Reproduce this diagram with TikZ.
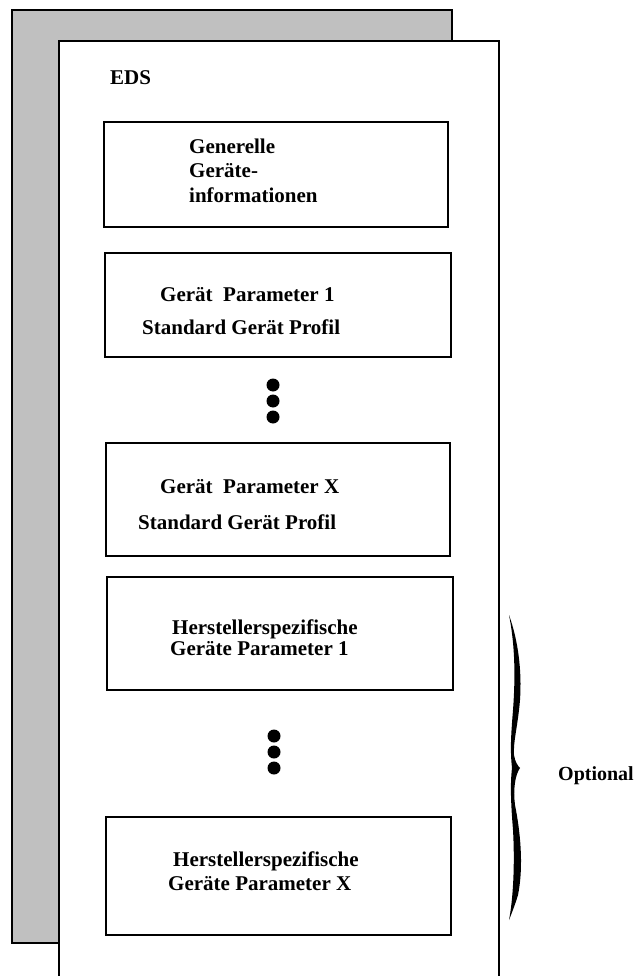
\documentclass[tikz,border=0pt]{standalone}
\usepackage{fontspec}
\setmainfont{Liberation Serif}
\definecolor{backgray}{RGB}{192,192,192}
\begin{document}
\begin{tikzpicture}[x=1pt,y=-1pt,
  frame/.style={draw=black,line width=2pt},
  box/.style={draw=black,line width=2pt,fill=white},
  lbl/.style={anchor=base west,inner sep=0pt,font=\fontsize{21}{24}\selectfont\bfseries},
  dot/.style={fill=black}]
\useasboundingbox (0,0) rectangle (635,976);
% back (gray) sheet
\draw[frame,fill=backgray] (12,10) rectangle (452,943);
% front (white) sheet
\fill[white] (59,41) rectangle (499,976);
\draw[frame] (59,980) -- (59,41) -- (499,41) -- (499,980);
\node[lbl] (eds) at (110,85) {EDS};
% box 1
\draw[box] (104,122) rectangle (448,227);
\node[lbl] (g1) at (189,154) {Generelle};
\node[lbl] (g2) at (189,178) {Geräte-};
\node[lbl] (g3) at (189,203) {informationen};
% box 2
\draw[box] (105,253) rectangle (451,357);
\node[lbl] (p1a) at (160,301) {Gerät~ Parameter 1};
\node[lbl] (p1b) at (142,334) {Standard Gerät Profil};
% dots 1
\fill[dot] (273,385) circle (6.5);
\fill[dot] (273,401) circle (6.5);
\fill[dot] (273,417) circle (6.5);
% box 3
\draw[box] (106,443) rectangle (450,556);
\node[lbl] (pxa) at (160,493) {Gerät~ Parameter X};
\node[lbl] (pxb) at (138,529) {Standard Gerät Profil};
% box 4
\draw[box] (107,577) rectangle (453,690);
\node[lbl] (h1a) at (172,634) {Herstellerspezifische};
\node[lbl] (h1b) at (170,655) {Geräte Parameter 1};
% dots 2
\fill[dot] (274,736) circle (6.5);
\fill[dot] (274,752) circle (6.5);
\fill[dot] (274,768) circle (6.5);
% box 5
\draw[box] (106,817) rectangle (451,935);
\node[lbl] (hxa) at (173,866) {Herstellerspezifische};
\node[lbl] (hxb) at (168,890) {Geräte Parameter X};
% brace
\fill[black] (509,615) .. controls (518,640) and (522,670) .. (520,700)
  .. controls (518,725) and (513,742) .. (514,755)
  .. controls (515,762) and (518,766) .. (520,768)
  .. controls (515,775) and (513,790) .. (515,805)
  .. controls (520,830) and (524,865) .. (518,895)
  .. controls (515,905) and (511,915) .. (509,920)
  .. controls (513,900) and (515,865) .. (513,830)
  .. controls (511,805) and (510,785) .. (512,768)
  .. controls (510,750) and (511,735) .. (513,710)
  .. controls (516,670) and (514,640) .. (509,615) -- cycle;
\node[lbl,font=\fontsize{20}{24}\selectfont\bfseries] (opt) at (558,780) {Optional};
\end{tikzpicture}
\end{document}
